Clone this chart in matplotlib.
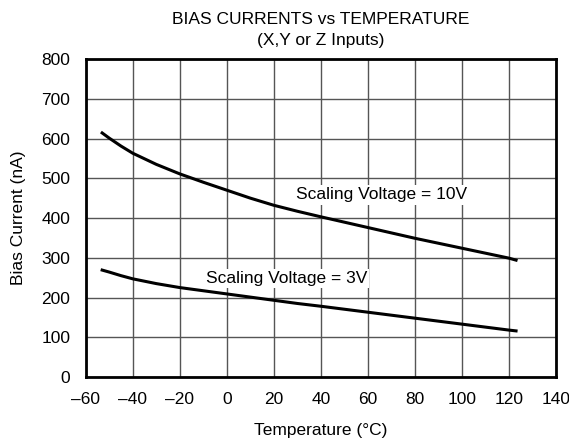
import numpy as np
import matplotlib
matplotlib.use("Agg")
import matplotlib.pyplot as plt

plt.rcParams["font.family"] = ["Liberation Sans", "DejaVu Sans"]

# Dados
temp_10v = [-53, -50, -45, -40, -30, -20, -10, 0, 10, 20, 30, 40, 60, 80, 100, 120, 123]
bias_10v = [614, 601, 581, 563, 535, 511, 490, 470, 450, 432, 417, 403, 376, 349, 324, 299, 294]
temp_3v = [-53, -50, -45, -40, -30, -20, -10, 0, 10, 20, 30, 40, 60, 80, 100, 120, 123]
bias_3v = [269, 264, 255, 247, 235, 225, 217, 209, 201, 193, 185, 178, 163, 148, 133, 118, 116]

x_ticks = list(range(-60, 141, 20))
y_ticks = list(range(0, 801, 100))
titulo = "BIAS CURRENTS vs TEMPERATURE\n(X,Y or Z Inputs)"
rotulo_10v = "Scaling Voltage = 10V"
rotulo_3v = "Scaling Voltage = 3V"

fonte = 12.5

fig = plt.figure(figsize=(5.69, 4.45), dpi=100)
ax = fig.add_axes([0.1506, 0.1528, 0.8266, 0.7146])

ax.set_xlim(-60, 140)
ax.set_ylim(0, 800)
ax.set_xticks(x_ticks)
ax.set_yticks(y_ticks)
ax.set_xticklabels([str(t).replace("-", "\u2013") for t in x_ticks])
ax.tick_params(length=0, labelsize=fonte, colors="black")
ax.tick_params(axis="x", pad=11)
ax.tick_params(axis="y", pad=11)
ax.grid(True, color="#555555", linewidth=1.0)
ax.set_axisbelow(True)
for s in ax.spines.values():
    s.set_linewidth(2.0)
    s.set_color("black")

ax.plot(temp_10v, bias_10v, color="black", linewidth=2.2, zorder=3)
ax.plot(temp_3v, bias_3v, color="black", linewidth=2.2, zorder=3)

caixa = dict(facecolor="white", edgecolor="none", pad=1.5)
ax.text(65.8, 458, rotulo_10v, ha="center", va="center", fontsize=fonte,
        bbox=caixa, zorder=4)
ax.text(25.4, 248, rotulo_3v, ha="center", va="center", fontsize=fonte,
        bbox=caixa, zorder=4)

ax.set_title(titulo, fontsize=fonte, pad=10, linespacing=1.55)
ax.set_xlabel("Temperature (°C)", fontsize=fonte, labelpad=11)
ax.set_ylabel("Bias Current (nA)", fontsize=fonte, labelpad=11)

fig.savefig("out.png", dpi=100)
